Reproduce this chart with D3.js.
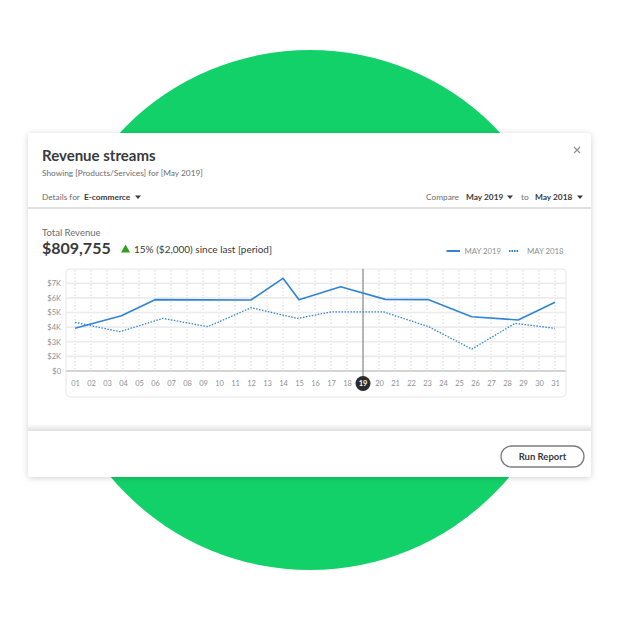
<!DOCTYPE html>
<html><head><meta charset="utf-8">
<script src="https://cdn.jsdelivr.net/npm/d3@7"></script>
<style>html,body{margin:0;padding:0;background:#fff;}svg{display:block;font-family:Lato,"Open Sans",sans-serif;}</style>
</head><body><svg id="c" width="620" height="620"></svg>
<script>
const dayLabels = d3.range(1, 32).map(d => String(d).padStart(2, "0"));
const yTickValues = [1, 2, 3, 4, 5, 6, 7];
const yTickLabels = ["$0", "$2K", "$3K", "$4K", "$5K", "$6K", "$7K"];
const may2019Days = [1, 3.9, 6, 12, 14, 15, 17.6, 20.4, 23.1, 25.8, 28.7, 31];
const may2019Vals = [3.92, 4.78, 5.88, 5.86, 7.34, 5.88, 6.77, 5.9, 5.88, 4.71, 4.49, 5.7];
const may2018Days = [1, 3.8, 6.5, 9.3, 12, 14.9, 17, 20.3, 23.1, 25.8, 28.5, 31];
const may2018Vals = [4.33, 3.69, 4.6, 4.03, 5.33, 4.6, 5.04, 5.04, 4.03, 2.5, 4.26, 3.92];
const selectedDay = 19;
const seriesNames = ["MAY 2019", "MAY 2018"];

const svg = d3.select("#c");
const blue = "#3183d4";
const defs = svg.append("defs");
const f = defs.append("filter").attr("id", "sh").attr("x", "-10%").attr("y", "-10%").attr("width", "120%").attr("height", "130%");
f.append("feDropShadow").attr("dx", 0).attr("dy", 1).attr("stdDeviation", 3).attr("flood-color", "#000").attr("flood-opacity", 0.18);
const g2 = defs.append("linearGradient").attr("id", "fs").attr("x1", 0).attr("x2", 0).attr("y1", 0).attr("y2", 1);
g2.append("stop").attr("offset", 0).attr("stop-color", "#fff");
g2.append("stop").attr("offset", 1).attr("stop-color", "#e4e4e4");

// background circle
svg.append("circle").attr("cx", 310).attr("cy", 310).attr("r", 260).attr("fill", "#13d169");

// card
svg.append("rect").attr("x", 28).attr("y", 133).attr("width", 563).attr("height", 344).attr("rx", 4).attr("fill", "#fff").attr("filter", "url(#sh)");
svg.append("rect").attr("x", 28).attr("y", 424).attr("width", 563).attr("height", 6).attr("fill", "url(#fs)");
svg.append("line").attr("x1", 28).attr("x2", 591).attr("y1", 430.5).attr("y2", 430.5).attr("stroke", "#e2e2e2").attr("stroke-width", 1);

// header
svg.append("text").attr("x", 42).attr("y", 161).attr("font-size", 15).attr("font-weight", 700).attr("fill", "#393a3d").text("Revenue streams");
svg.append("text").attr("x", 42).attr("y", 176).attr("font-size", 8.3).attr("fill", "#6b6c72").text("Showing [Products/Services] for [May 2019]");
svg.append("path").attr("d", "M574,147L580,153M580,147L574,153").attr("stroke", "#8d9096").attr("stroke-width", 1.2);

const caret = (x, y) => svg.append("path").attr("d", `M${x - 3},${y - 2}L${x + 3},${y - 2}L${x},${y + 1.5}Z`).attr("fill", "#393a3d");
svg.append("text").attr("x", 42).attr("y", 200).attr("font-size", 8.3).attr("fill", "#6b6c72").text("Details for");
svg.append("text").attr("x", 84).attr("y", 200).attr("font-size", 8.3).attr("font-weight", 700).attr("fill", "#393a3d").text("E-commerce");
caret(138, 197.5);
svg.append("text").attr("x", 426).attr("y", 200).attr("font-size", 8.3).attr("fill", "#6b6c72").text("Compare");
svg.append("text").attr("x", 466).attr("y", 200).attr("font-size", 8.3).attr("font-weight", 700).attr("fill", "#393a3d").text("May 2019");
caret(510, 197.5);
svg.append("text").attr("x", 521).attr("y", 200).attr("font-size", 8.3).attr("fill", "#6b6c72").text("to");
svg.append("text").attr("x", 535).attr("y", 200).attr("font-size", 8.3).attr("font-weight", 700).attr("fill", "#393a3d").text("May 2018");
caret(580, 197.5);
svg.append("rect").attr("x", 28).attr("y", 207).attr("width", 563).attr("height", 2).attr("fill", "#e0e0e0");

// totals
svg.append("text").attr("x", 42).attr("y", 236).attr("font-size", 9.5).attr("fill", "#6b6c72").text("Total Revenue");
svg.append("text").attr("x", 42).attr("y", 254).attr("font-size", 16).attr("font-weight", 700).attr("fill", "#393a3d").text("$809,755");
svg.append("path").attr("d", "M121,252.5L130,252.5L125.5,244.5Z").attr("fill", "#2ca01c");
svg.append("text").attr("x", 134).attr("y", 253).attr("font-size", 10).attr("fill", "#393a3d").text("15% ($2,000) since last [period]");

// legend
const lg = svg.append("g").attr("font-size", 7.8).attr("fill", "#8d9096");
lg.append("line").attr("x1", 446.5).attr("x2", 460).attr("y1", 251).attr("y2", 251).attr("stroke", blue).attr("stroke-width", 2);
lg.append("text").attr("x", 464.5).attr("y", 253.7).text(seriesNames[0]);
lg.append("line").attr("x1", 509).attr("x2", 518).attr("y1", 251).attr("y2", 251).attr("stroke", blue).attr("stroke-width", 2).attr("stroke-dasharray", "1.5,1");
lg.append("text").attr("x", 527).attr("y", 253.7).text(seriesNames[1]);

// chart box
svg.append("rect").attr("x", 66).attr("y", 269).attr("width", 500).attr("height", 128).attr("rx", 4).attr("fill", "#fff").attr("stroke", "#e6e6e6");

const x = d3.scaleLinear().domain([1, 31]).range([75, 555]);
const y = d3.scaleLinear().domain([1, 7]).range([371, 283.3]);

// vertical dotted grid
svg.append("g").selectAll("line").data(d3.range(1, 32)).join("line")
  .attr("x1", d => x(d)).attr("x2", d => x(d)).attr("y1", 270).attr("y2", 371)
  .attr("stroke", "#cfcfcf").attr("stroke-width", 0.8).attr("stroke-dasharray", "1.5,2");

// horizontal grid
svg.append("g").selectAll("line").data(yTickValues.slice(1)).join("line")
  .attr("x1", 66.5).attr("x2", 565.5).attr("y1", d => y(d)).attr("y2", d => y(d))
  .attr("stroke", "#ececec").attr("stroke-width", 1.6);
svg.append("line").attr("x1", 66.5).attr("x2", 565.5).attr("y1", y(1)).attr("y2", y(1)).attr("stroke", "#a9a9a9").attr("stroke-width", 1.2);

// y axis
const yAxis = d3.axisLeft(y).tickValues(yTickValues).tickFormat((d, i) => yTickLabels[i]).tickSize(0).tickPadding(0);
const ya = svg.append("g").attr("transform", "translate(61,0)").call(yAxis);
ya.select(".domain").remove();
ya.selectAll("text").attr("font-size", 7.5).attr("fill", "#8d9096").attr("font-family", "Lato");

// x axis
const xAxis = d3.axisBottom(x).tickValues(d3.range(1, 32)).tickFormat(d => dayLabels[d - 1]).tickSize(0).tickPadding(0);
const xa = svg.append("g").attr("transform", "translate(0,381)").call(xAxis);
xa.select(".domain").remove();
xa.selectAll("text").attr("font-size", 7.5).attr("fill", "#8d9096").attr("font-family", "Lato").attr("dy", "0.6em");
xa.selectAll(".tick").filter(d => d === selectedDay).select("text").attr("fill", "none");

// selected day marker
svg.append("line").attr("x1", x(selectedDay)).attr("x2", x(selectedDay)).attr("y1", 269).attr("y2", 378).attr("stroke", "#8a8a8a").attr("stroke-width", 1.2);

// lines
const line = d3.line().x(d => x(d[0])).y(d => y(d[1]));
svg.append("path").datum(d3.zip(may2018Days, may2018Vals)).attr("d", line).attr("fill", "none")
  .attr("stroke", blue).attr("stroke-width", 1.3).attr("stroke-dasharray", "1.5,1.5");
svg.append("path").datum(d3.zip(may2019Days, may2019Vals)).attr("d", line).attr("fill", "none")
  .attr("stroke", blue).attr("stroke-width", 1.6).attr("stroke-linejoin", "round");

svg.append("circle").attr("cx", x(selectedDay)).attr("cy", 383.5).attr("r", 7.5).attr("fill", "#2b2b2b");
svg.append("text").attr("x", x(selectedDay)).attr("y", 386.3).attr("text-anchor", "middle").attr("font-size", 7.5).attr("font-weight", 700).attr("fill", "#fff").text(dayLabels[selectedDay - 1]);

// footer button
svg.append("rect").attr("x", 501).attr("y", 446).attr("width", 83).attr("height", 21).attr("rx", 10.5).attr("fill", "#fff").attr("stroke", "#7d7d7d").attr("stroke-width", 1.3);
svg.append("text").attr("x", 542.5).attr("y", 460).attr("text-anchor", "middle").attr("font-size", 9.5).attr("font-weight", 700).attr("fill", "#393a3d").text("Run Report");
</script></body></html>
